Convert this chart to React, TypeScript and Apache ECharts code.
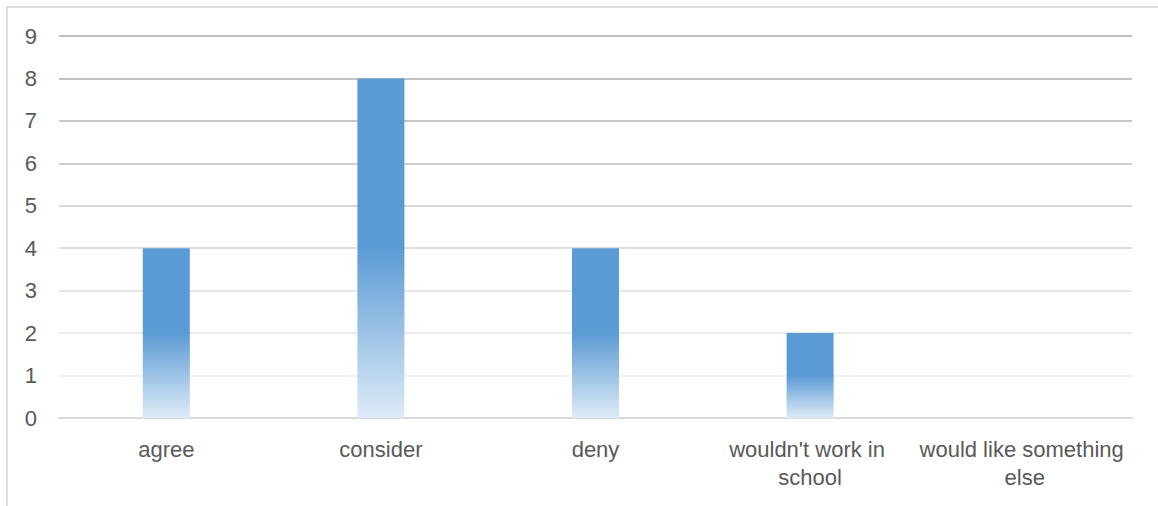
import React, { useEffect, useRef } from "react";
import * as echarts from "echarts";

const categories = ["agree", "consider", "deny", "wouldn't work in school", "would like something else"];
const values = [4, 8, 4, 2, 0];
const gridLineColors = ["#d9d9d9", "#f0f0f0", "#ebebeb", "#e6e6e6", "#e0e0e0", "#d6d6d6", "#cecece", "#c6c6c6", "#c2c2c2", "#bfbfbf"];

export default function App() {
  const ref = useRef<HTMLDivElement>(null);
  useEffect(() => {
    if (!ref.current) return;
    const chart = echarts.init(ref.current, undefined, { renderer: "svg" });
    chart.setOption({
      animation: false,
      backgroundColor: "#ffffff",
      textStyle: { fontFamily: "Liberation Sans, Arial, sans-serif" },
      graphic: [
        { type: "line", shape: { x1: 6, y1: 7, x2: 1158, y2: 7 }, style: { stroke: "#e0e0e0", lineWidth: 2 }, silent: true },
        { type: "line", shape: { x1: 7, y1: 6, x2: 7, y2: 506 }, style: { stroke: "#e0e0e0", lineWidth: 2 }, silent: true },
      ],
      grid: { left: 59, right: 26, top: 36, bottom: 88, containLabel: false },
      xAxis: {
        type: "category",
        data: categories,
        axisLine: { show: true, lineStyle: { color: "#d9d9d9", width: 2 } },
        axisTick: { show: false },
        axisLabel: {
          color: "#595959",
          fontSize: 22,
          margin: 17,
          lineHeight: 28,
          width: 212,
          overflow: "break",
          interval: 0,
        },
      },
      yAxis: {
        type: "value",
        min: 0,
        max: 9,
        interval: 1,
        axisLine: { show: false },
        axisTick: { show: false },
        axisLabel: { color: "#595959", fontSize: 22, margin: 22 },
        splitLine: { show: true, lineStyle: { color: gridLineColors, width: 2 } },
      },
      series: [
        {
          type: "bar",
          data: values,
          barWidth: 47,
          itemStyle: {
            color: new echarts.graphic.LinearGradient(0, 0, 0, 1, [
              { offset: 0, color: "#5b9bd5" },
              { offset: 0.5, color: "#5b9bd5" },
              { offset: 1, color: "#deebf7" },
            ]),
          },
        },
      ],
    });
    return () => chart.dispose();
  }, []);
  return <div ref={ref} style={{ position: "fixed", left: 0, top: 0, width: 1158, height: 506 }} />;
}
